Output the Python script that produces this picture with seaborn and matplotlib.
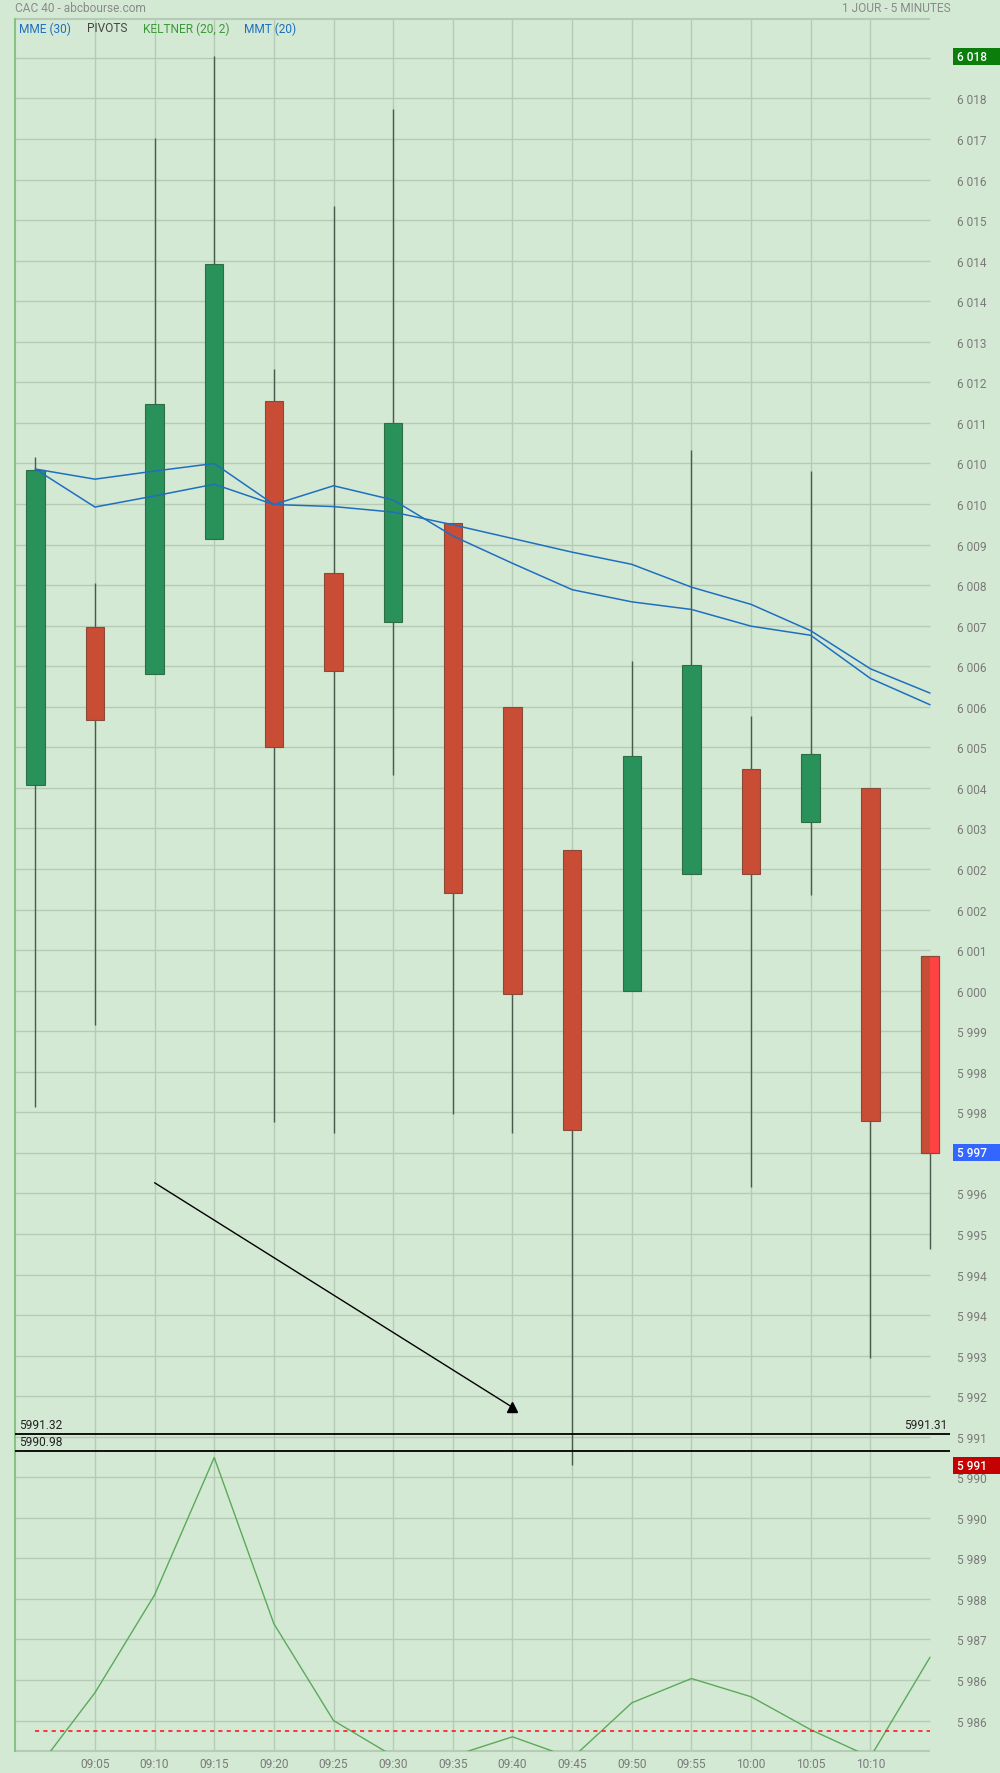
import numpy as np
import pandas as pd
import matplotlib
matplotlib.use("Agg")
import matplotlib.pyplot as plt
import matplotlib.transforms as mtransforms
from matplotlib.patches import Rectangle
import seaborn as sns

# ---------------- data ----------------
times = ["09:00", "09:05", "09:10", "09:15", "09:20", "09:25", "09:30", "09:35",
         "09:40", "09:45", "09:50", "09:55", "10:00", "10:05", "10:10", "10:15"]
opens  = [6004.05, 6007.18, 6006.24, 6008.90, 6011.64, 6008.23, 6007.27, 6009.23,
          6005.59, 6002.78, 5999.99, 6002.31, 6004.37, 6003.32, 6003.99, 6000.69]
highs  = [6010.53, 6008.05, 6016.82, 6018.43, 6012.27, 6015.48, 6017.40, 6009.23,
          6005.59, 6002.78, 6006.51, 6010.66, 6005.42, 6010.26, 6003.99, 6000.69]
lows   = [5997.70, 5999.32, 6006.24, 6008.90, 5997.40, 5997.20, 6004.26, 5997.56,
          5997.20, 5990.64, 5999.99, 6002.31, 5996.13, 6001.89, 5992.76, 5994.91]
closes = [6010.28, 6005.33, 6011.58, 6014.34, 6004.81, 6006.31, 6011.20, 6001.93,
          5999.93, 5997.25, 6004.63, 6006.42, 6002.31, 6004.66, 5997.43, 5996.80]

mmt20 = [6010.29, 6010.09, 6010.25, 6010.40, 6009.59, 6009.96, 6009.68, 6008.97,
         6008.43, 6007.91, 6007.67, 6007.52, 6007.19, 6007.01, 6006.16, 6005.64]
mme30 = [6010.29, 6009.54, 6009.76, 6009.99, 6009.59, 6009.55, 6009.44, 6009.19,
         6008.92, 6008.65, 6008.41, 6007.96, 6007.62, 6007.10, 6006.35, 6005.87]
keltner = [5984.6, 5986.15, 5988.08, 5990.79, 5987.51, 5985.60, 5984.9, 5984.9,
           5985.28, 5984.86, 5985.95, 5986.43, 5986.07, 5985.42, 5984.88, 5986.85]
keltner_level = 5985.39

pivot_levels = [5991.25, 5990.91]
pivot_labels = ["5991.32", "5990.98"]
pivot_right_label = "5991.31"

arrow_times = ["09:10", "09:40"]
arrow_values = [5996.21, 5991.78]

legend_items = ["MME (30)", "PIVOTS", "KELTNER (20, 2)", "MMT (20)"]

# ---------------- style ----------------
BG = "#d4e9d4"
GRID = "#b5cbb5"
GREEN_BODY = "#29915a"
GREEN_EDGE = "#2f6e45"
RED_BODY = "#c94c35"
RED_EDGE = "#8a4a3a"
WICK = "#4a5a4c"
BLUE = "#1f6fc0"
LBL = "#7a7a7a"

sns.set_theme(style="white")
plt.rcParams["font.family"] = ["Roboto", "DejaVu Sans"]

W, H = 1000, 1774
fig = plt.figure(figsize=(W / 100, H / 100), dpi=100, facecolor=BG)

px_left, px_right = 15, 950
px_top, px_bottom = 20, 1752
ax = fig.add_axes([px_left / W, 1 - px_bottom / H, (px_right - px_left) / W,
                   (px_bottom - px_top) / H])
ax.set_facecolor(BG)

n = len(times)
x = np.arange(n)
x_left = -0.3403
x_grid_right = n - 1
x_right = 15.335
y_top = 6019.168
y_bottom = 5985.0
ax.set_xlim(x_left, x_right)
ax.set_ylim(y_bottom, y_top)

# y ticks every 0.8
yticks = np.round(np.arange(5985.6, 6018.5, 0.8), 1)

# grid
ax.hlines(yticks, x_left, x_grid_right, color=GRID, lw=1.0, zorder=1)
ax.hlines([y_top, y_bottom], x_left, x_grid_right, color=GRID, lw=1.5, zorder=1,
          clip_on=False)
ax.vlines(x[1:-1], y_bottom, y_top, color=GRID, lw=1.0, zorder=1)

for s in ["top", "right", "bottom"]:
    ax.spines[s].set_visible(False)
ax.spines["left"].set_color("#86c486")
ax.spines["left"].set_linewidth(1.5)

# keltner-like green line and dashed level
df = pd.DataFrame({"x": x, "mme": mme30, "mmt": mmt20, "kel": keltner})
sns.lineplot(data=df, x="x", y="kel", ax=ax, color="#5aaa5a", lw=1.0,
             estimator=None, sort=False, zorder=2)
ax.hlines(keltner_level, 0, n - 1, color="#ff1a1a", lw=1.2,
          linestyles=(0, (2.5, 2.5)), zorder=2)

# candles
body_w = 0.31
for i in range(n):
    o, h, l, c = opens[i], highs[i], lows[i], closes[i]
    up = c >= o
    ax.vlines(i, l, h, color=WICK, lw=1.0, zorder=3)
    ax.bar(i, abs(c - o), bottom=min(o, c), width=body_w,
           color=GREEN_BODY if up else RED_BODY,
           edgecolor=GREEN_EDGE if up else RED_EDGE, lw=0.8, zorder=4,
           clip_on=False)
# last (live) candle highlighted on its right half
i = n - 1
ax.bar(i, abs(closes[i] - opens[i]), bottom=min(opens[i], closes[i]),
       width=body_w / 2, align="edge", color="#ff4242", lw=0, zorder=5,
       clip_on=False)
ax.bar(i, abs(closes[i] - opens[i]), bottom=min(opens[i], closes[i]),
       width=body_w, fill=False, edgecolor=RED_EDGE, lw=0.8, zorder=6,
       clip_on=False)

# moving averages
sns.lineplot(data=df, x="x", y="mme", ax=ax, color=BLUE, lw=1.1,
             estimator=None, sort=False, zorder=7)
sns.lineplot(data=df, x="x", y="mmt", ax=ax, color=BLUE, lw=1.1,
             estimator=None, sort=False, zorder=7)

# arrow drawing
ax_x = [times.index(t) for t in arrow_times]
ax.plot(ax_x, arrow_values, color="black", lw=1.0, zorder=8)
ax.plot(ax_x[-1], arrow_values[-1], marker="^", ms=7, color="black", zorder=8,
        lw=0)

# pivot lines
ax.hlines(pivot_levels, x_left, x_right, color="black", lw=1.3, zorder=8,
          clip_on=False)
ax.text(x_left + 0.07, pivot_levels[0] + 0.06, pivot_labels[0],
        ha="left", va="bottom", fontsize=8.6, color="#222222", zorder=9)
ax.text(x_left + 0.07, pivot_levels[1] + 0.06, pivot_labels[1],
        ha="left", va="bottom", fontsize=8.6, color="#222222", zorder=9)
ax.text(x_right - 0.05, pivot_levels[0] + 0.06, pivot_right_label,
        ha="right", va="bottom", fontsize=8.6, color="#222222", zorder=9)

ax.set_xlabel("")
ax.set_ylabel("")

# x ticks
ax.set_xticks(x[1:-1])
ax.set_xticklabels(times[1:-1])
ax.tick_params(axis="x", length=0, pad=4, labelsize=8.6, labelcolor=LBL)

# y ticks on the right
def fmt(v):
    return f"{int(round(v)):,}".replace(",", " ")

ax.yaxis.tick_right()
ax.set_yticks(yticks)
ax.set_yticklabels([fmt(v) for v in yticks])
ax.tick_params(axis="y", length=0, pad=5, labelsize=8.6, labelcolor=LBL)

# value boxes on the right
trans = mtransforms.blended_transform_factory(ax.transAxes, ax.transData)
box_h = 17 / ((px_bottom - px_top) / (y_top - y_bottom))
box_x0 = (953 - px_left) / (px_right - px_left)
box_w = (1005 - 953) / (px_right - px_left)
txt_x = (957 - px_left) / (px_right - px_left)
for val, colr in [(max(highs), "#0a7d0a"), (closes[-1], "#3366ff"),
                  (min(lows), "#c40000")]:
    ax.add_patch(Rectangle((box_x0, val - box_h / 2), box_w, box_h,
                           transform=trans, fc=colr, ec="none",
                           clip_on=False, zorder=20))
    ax.text(txt_x, val, fmt(val), transform=trans, ha="left", va="center",
            fontsize=8.6, color="white", fontweight="medium", zorder=21,
            clip_on=False)

# header texts
fig.text(15 / W, 1 - 9 / H, "CAC 40 - abcbourse.com", ha="left", va="center",
         fontsize=8.6, color="#8a8a8a")
fig.text(951 / W, 1 - 9 / H, "1 JOUR - 5 MINUTES", ha="right", va="center",
         fontsize=8.6, color="#8a8a8a")
leg_x = [19, 87, 143, 244]
leg_c = [BLUE, "#444444", "#3a9a3a", BLUE]
for t, xx, cc in zip(legend_items, leg_x, leg_c):
    fig.text(xx / W, 1 - 29 / H, t, ha="left", va="center", fontsize=8.6,
             color=cc)

fig.savefig("out.png", dpi=100, facecolor=BG)
